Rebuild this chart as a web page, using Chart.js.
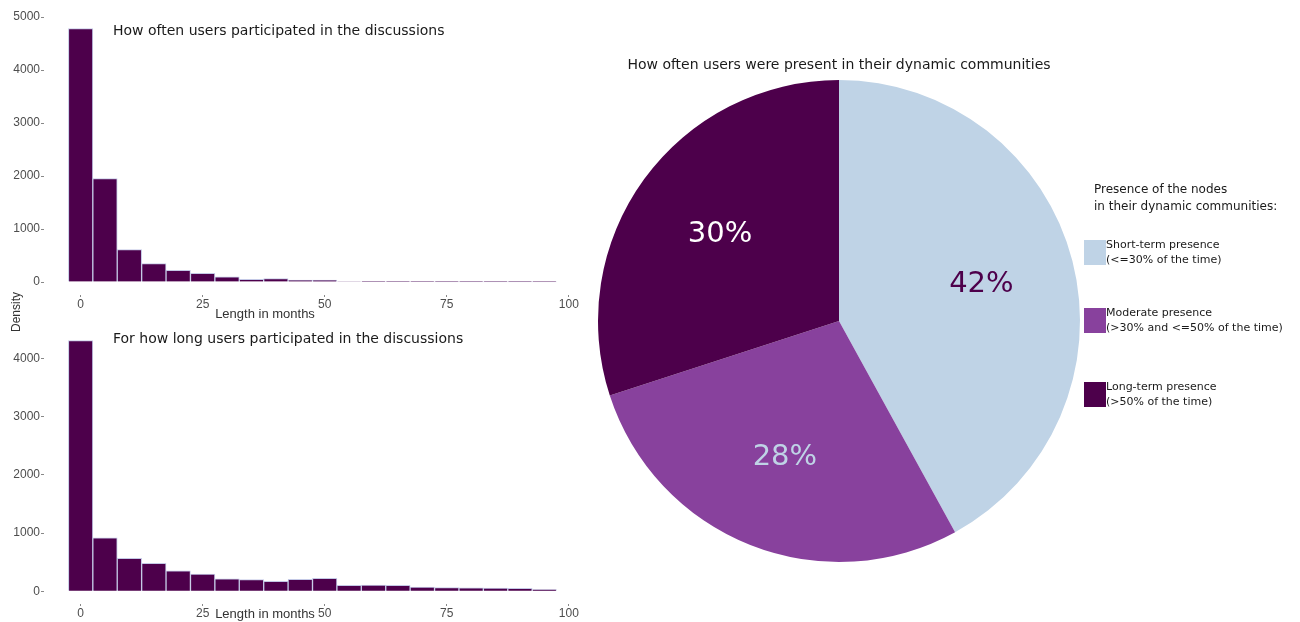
<!DOCTYPE html>
<html><head><meta charset="utf-8">
<script src="https://cdn.jsdelivr.net/npm/chart.js@4.4.1/dist/chart.umd.min.js"></script>
<style>
html,body{margin:0;padding:0;background:#fff;width:1300px;height:622px;overflow:hidden;}
canvas{position:absolute;}
</style></head><body>
<canvas id="topHist" width="600" height="335" style="left:0;top:0;width:600px;height:335px"></canvas>
<canvas id="bottomHist" width="600" height="302" style="left:0;top:320px;width:600px;height:302px"></canvas>
<canvas id="pie" width="710" height="622" style="left:590px;top:0;width:710px;height:622px"></canvas>
<script>
// ---- data ----
const binCenters = [0, 5, 10, 15, 20, 25, 30, 35, 40, 45, 50, 55, 60, 65, 70, 75, 80, 85, 90, 95];
const oftenCounts = [4780, 1950, 610, 346, 220, 164, 100, 50, 63, 38, 35, 10, 8, 6, 5, 4, 4, 3, 3, 2];
const longCounts  = [4310, 920, 565, 480, 350, 294, 215, 198, 170, 203, 220, 100, 107, 100, 73, 62, 60, 55, 50, 28];
const xTickValues = [0, 25, 50, 75, 100];
const topYTicks = [0, 1000, 2000, 3000, 4000, 5000];
const bottomYTicks = [0, 1000, 2000, 3000, 4000];
const presenceLabels = ["Short-term presence\n(<=30% of the time)", "Moderate presence\n(>30% and <=50% of the time)", "Long-term presence\n(>50% of the time)"];
const presenceShares = [42, 28, 30];

// ---- styles ----
const DARK = '#4d004b', PURPLE = '#88419d', LIGHT = '#bfd3e6';
const OUTLINE = '#c4c9e6';
const presenceColors = [LIGHT, PURPLE, DARK];
const pieTextColors = [DARK, LIGHT, '#ffffff'];
const SANS = 'DejaVu Sans';
const ARIAL = 'Liberation Sans';

function textPlugin(id, items) {
  return { id, afterDraw(chart) {
    const ctx = chart.ctx;
    items.forEach(it => {
      ctx.save();
      ctx.font = it.font; ctx.fillStyle = it.color || '#1a1a1a';
      ctx.textAlign = it.align || 'left'; ctx.textBaseline = 'middle';
      ctx.translate(it.x, it.y);
      if (it.rotate) ctx.rotate(it.rotate);
      ctx.fillText(it.text, 0, 0);
      ctx.restore();
    });
  }};
}

function makeHist(id, counts, yTicks, yMin, yMax, padTop, xAxisH, texts) {
  return new Chart(document.getElementById(id), {
    type: 'bar',
    data: { datasets: [{
      data: binCenters.map((c, i) => ({ x: c, y: counts[i] })),
      backgroundColor: DARK, borderColor: OUTLINE, borderWidth: 1,
      borderSkipped: 'start', barPercentage: 1, categoryPercentage: 1
    }]},
    options: {
      responsive: false, animation: false, devicePixelRatio: 1,
      layout: { padding: { left: 0, right: 19, top: padTop, bottom: 0 } },
      plugins: { legend: { display: false }, tooltip: { enabled: false } },
      scales: {
        x: {
          type: 'linear', min: -7.5, max: 102.5, offset: false,
          afterBuildTicks: s => { s.ticks = xTickValues.map(v => ({ value: v })); },
          afterFit: s => { s.height = xAxisH; },
          grid: { display: true, offset: false, drawOnChartArea: false, tickLength: 2, color: '#888' },
          border: { display: false },
          ticks: { padding: 0, color: '#4d4d4d', font: { family: ARIAL, size: 12 }, maxRotation: 0, autoSkip: false, callback: v => String(v) }
        },
        y: {
          min: yMin, max: yMax,
          afterBuildTicks: s => { s.ticks = yTicks.map(v => ({ value: v })); },
          afterFit: s => { s.width = 44; },
          grid: { drawOnChartArea: false, tickLength: 3, color: '#888' },
          border: { display: false },
          ticks: { padding: 1, color: '#4d4d4d', font: { family: ARIAL, size: 12 }, callback: v => String(v) }
        }
      }
    },
    plugins: [textPlugin(id + 'Text', texts)]
  });
}

makeHist('topHist', oftenCounts, topYTicks, -245, 5019, 16, 40, [
  { text: 'How often users participated in the discussions', x: 113, y: 31, font: '14px ' + SANS, color: '#1a1a1a' },
  { text: 'Length in months', x: 265, y: 314, font: '13px ' + ARIAL, color: '#333', align: 'center' },
  { text: 'Density', x: 17, y: 312, font: '12px ' + ARIAL, color: '#333', align: 'center', rotate: -Math.PI / 2 }
]);
makeHist('bottomHist', longCounts, bottomYTicks, -220, 4525, 4, 18, [
  { text: 'For how long users participated in the discussions', x: 113, y: 19, font: '14px ' + SANS, color: '#1a1a1a' },
  { text: 'Length in months', x: 265, y: 294, font: '13px ' + ARIAL, color: '#333', align: 'center' }
]);

const pieLabelPlugin = { id: 'pieLabels', afterDatasetsDraw(chart) {
  const ctx = chart.ctx;
  chart.getDatasetMeta(0).data.forEach((arc, i) => {
    const mid = (arc.startAngle + arc.endAngle) / 2;
    const r = arc.outerRadius * 0.61;
    ctx.save();
    ctx.font = '29px ' + SANS; ctx.fillStyle = pieTextColors[i];
    ctx.textAlign = 'center'; ctx.textBaseline = 'middle';
    ctx.fillText(presenceShares[i] + '%', arc.x + Math.cos(mid) * r, arc.y + Math.sin(mid) * r);
    ctx.restore();
  });
}};

const OX = 590;
const legendPlugin = { id: 'pieLegend', afterDraw(chart) {
  const ctx = chart.ctx;
  ctx.save();
  ctx.textBaseline = 'middle'; ctx.textAlign = 'left';
  ctx.fillStyle = '#1a1a1a'; ctx.font = '12px ' + SANS;
  ctx.fillText('Presence of the nodes', 1094 - OX, 190);
  ctx.fillText('in their dynamic communities:', 1094 - OX, 207);
  const tops = [240, 308, 382];
  chart.data.labels.forEach((lab, i) => {
    ctx.fillStyle = presenceColors[i];
    ctx.fillRect(1084 - OX, tops[i], 22, 25);
    ctx.fillStyle = '#1a1a1a'; ctx.font = '11px ' + SANS;
    lab.split('\n').forEach((line, j) => ctx.fillText(line, 1106 - OX, tops[i] + 5 + j * 15));
  });
  ctx.restore();
}};

new Chart(document.getElementById('pie'), {
  type: 'pie',
  data: { labels: presenceLabels, datasets: [{ data: presenceShares, backgroundColor: presenceColors, borderWidth: 0 }] },
  options: {
    responsive: false, animation: false, devicePixelRatio: 1,
    layout: { padding: { left: 8, top: 80, right: 220, bottom: 60 } },
    plugins: { legend: { display: false }, tooltip: { enabled: false } }
  },
  plugins: [pieLabelPlugin, legendPlugin, textPlugin('pieTitle', [
    { text: 'How often users were present in their dynamic communities', x: 839 - OX, y: 65, font: '14px ' + SANS, color: '#1a1a1a', align: 'center' }
  ])]
});
</script>
</body></html>
